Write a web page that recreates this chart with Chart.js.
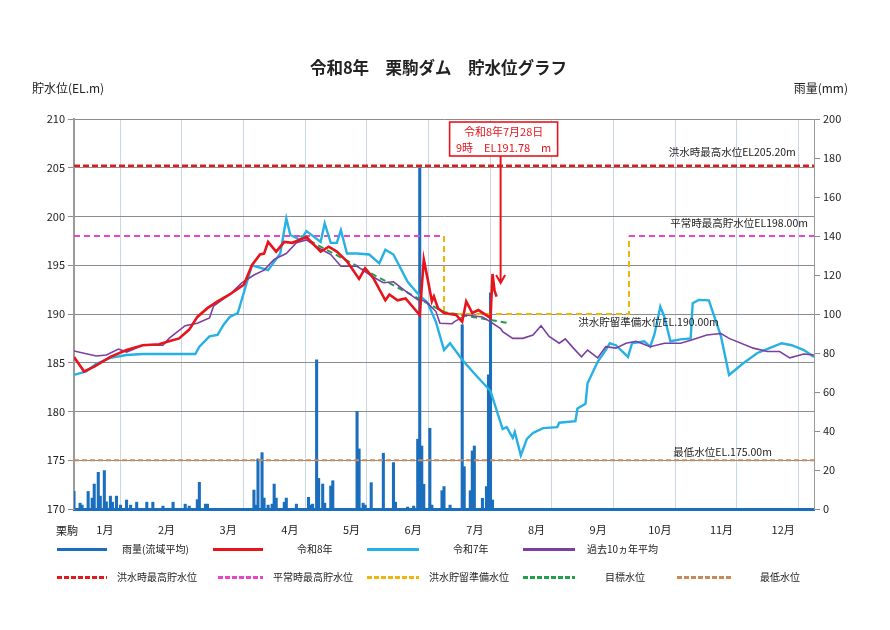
<!DOCTYPE html>
<html><head><meta charset="utf-8">
<script src="https://cdn.jsdelivr.net/npm/chart.js@4.4.1/dist/chart.umd.min.js"></script>
<style>
body{margin:0;background:#fff;font-family:"Noto Sans CJK JP","Noto Sans",sans-serif;}
#wrap{position:relative;width:890px;height:630px;overflow:hidden;background:#fff}
canvas{position:absolute;left:0;top:0}
.t{position:absolute;white-space:nowrap;color:#222;line-height:1}
.sw{position:absolute;height:3px}
</style></head><body>
<div id="wrap">
<canvas id="c" width="890" height="630"></canvas>
<div class="t" style="left:0;width:877px;text-align:center;top:59px;font-size:16.5px;font-weight:600;">令和8年　栗駒ダム　貯水位グラフ</div>
<div class="t" style="left:32px;top:82px;font-size:12px;">貯水位(EL.m)</div>
<div class="t" style="right:42px;top:82px;font-size:12px;">雨量(mm)</div>
<div class="t" style="left:56px;top:525px;font-size:11px;">栗駒</div>
<div id="legend"></div>
</div>
<script>
// ---- data ----
const monthLabels = ['1月','2月','3月','4月','5月','6月','7月','8月','9月','10月','11月','12月'];

const r8Days  = [0,5,10,18,26,34,42,47,52,57,61,66,71,77,84,88,92,94,96,100,104,108,115,122,126,130,135,141,144,148,154,156,160,164,171,173,175,177,178,180,183,189,192,194,197,200,206,207,208,209];
const r8Level = [185.6,184.1,184.6,185.6,186.3,186.8,186.9,187.2,187.5,188.4,189.7,190.6,191.3,192.0,193.0,195.0,196.1,196.2,197.4,196.4,197.4,197.3,197.9,196.4,196.9,196.4,195.4,193.6,194.7,193.7,191.4,192.0,191.4,191.6,189.9,195.6,193.5,191.3,191.8,190.6,190.1,189.9,189.2,191.3,190.1,190.4,189.6,194.1,192.4,191.78];

const r7Days  = [0,6,11,18,26,34,60,62,67,71,74,77,81,88,96,102,105,107,109,112,115,122,124,127,130,132,135,140,146,151,154,158,165,170,175,179,183,186,192,198,206,212,214,217,218,221,224,227,232,239,240,248,249,253,254,259,263,265,268,274,276,282,285,287,290,292,295,300,305,306,309,314,320,324,331,338,344,350,355,361,366];
const r7Level = [183.75,184.1,184.9,185.5,185.8,185.9,185.9,186.65,187.7,187.85,188.9,189.7,190.1,195.0,194.5,196.2,199.8,198.1,197.9,197.6,198.5,197.4,199.3,197.3,197.3,198.6,196.2,196.2,196.1,195.2,196.6,196.1,193.3,192.1,191.1,189.2,186.3,187.0,185.3,183.9,182.1,178.2,178.4,177.3,177.9,175.5,177.2,177.8,178.3,178.4,178.85,179.0,180.3,180.8,182.9,185.1,186.3,187.0,186.8,185.6,187.0,187.2,186.65,187.85,190.75,189.7,187.2,187.4,187.5,191.1,191.45,191.4,187.7,183.75,184.95,186.0,186.5,187.0,186.8,186.3,185.6];

const avgDays  = [0,11,16,22,26,34,44,47,55,61,67,69,77,83,89,94,99,105,110,115,120,127,132,140,148,153,158,163,170,174,179,181,187,188,194,202,206,211,212,217,222,227,231,235,240,243,247,251,254,259,263,268,273,278,285,292,300,305,313,320,324,336,343,349,354,361,366];
const avgLevel = [186.2,185.7,185.8,186.4,186.1,186.8,186.8,187.5,188.8,189.05,189.6,190.8,192.0,193.2,194.0,194.5,195.6,196.2,197.3,197.6,196.9,196.1,194.9,194.9,193.8,193.2,193.3,192.5,191.45,191.3,190.25,189.05,189.0,189.2,189.9,189.7,189.2,188.5,188.2,187.5,187.5,187.85,188.8,187.7,187.0,187.45,186.5,185.6,186.3,185.5,186.65,186.5,187.0,187.2,186.65,187.0,187.0,187.3,187.85,188.0,187.5,186.5,186.15,186.15,185.5,185.9,185.8];

const rainDays = [0,3,4,7,9,10,12,13,15,16,18,19,21,23,26,28,31,36,39,44,49,55,57,61,62,65,66,89,90,91,93,94,96,98,99,100,104,105,110,116,117,118,120,121,123,124,127,128,140,141,143,144,147,153,158,159,165,168,170,171,172,173,176,177,182,183,186,192,193,196,197,198,202,204,205,206,207];
const rainMm   = [9,3,2,9,5.6,12.8,18.8,6.6,19.7,3.7,6.6,3.5,6.6,2,4.6,2,3.5,3.5,3.5,1.5,3.5,2.5,1.5,4.8,13.7,2.5,2.5,9.7,2,25.7,28.9,5.6,2,2.5,12.8,5.6,3.5,5.6,2.5,6,2,2.5,76.5,15.7,12.8,3,11.8,14.5,50,30.8,3,2,13.5,28.6,23.8,3.5,1,1.5,35.8,175,32.3,12.7,41.4,2,9.4,11.5,2,94.5,21.7,9.4,29.8,32.3,5.5,11.5,68.8,110.8,4.6];

const floodMaxLevel = 205.2;
const minLevel = 175.0;
const normalDays  = [0,183,183,274.5,366];
const normalLevel = [198,198,null,198,198];
const prepDays  = [183,183,274.5,274.5];
const prepLevel = [198,190,190,198];
const targetDays  = [112,183,214];
const targetLevel = [198.0,190.2,189.1];

const levelLabels = ['洪水時最高水位EL205.20m','平常時最高貯水位EL198.00m','洪水貯留準備水位EL.190.00m','最低水位EL.175.00m'];
const noteLines = ['令和8年7月28日','9時　EL191.78　m'];

// ---- helpers ----
const FONT = '"Noto Sans CJK JP","Noto Sans",sans-serif';
const pts = (xs, ys) => xs.map((d,i)=>({x:d, y:ys[i]}));
const tickVals = [];
for (let i=0;i<=24;i++) tickVals.push(i*15.25);

const C = {
  rain:'#1a6ebd', r8:'#e8141c', r7:'#27b0e4', avg:'#7b3fa1',
  flood:'#e31a1c', normal:'#e645cc', prep:'#f0b50a', target:'#21a04c', min:'#c98a5a'
};

const annot = {
  id:'annot',
  afterDatasetsDraw(chart){
    const {ctx, scales:{x,y}, chartArea} = chart;
    ctx.save();
    ctx.fillStyle = '#222';
    ctx.font = '10.5px '+FONT;
    ctx.textBaseline = 'middle';
    ctx.textAlign = 'right';
    ctx.fillText(levelLabels[0], x.getPixelForValue(357), y.getPixelForValue(floodMaxLevel+1.45));
    ctx.fillText(levelLabels[1], x.getPixelForValue(363), y.getPixelForValue(198+1.32));
    ctx.textAlign = 'left';
    ctx.fillText(levelLabels[2], x.getPixelForValue(249.4), y.getPixelForValue(190-0.84));
    ctx.fillText(levelLabels[3], x.getPixelForValue(296.4), y.getPixelForValue(minLevel+0.81));

    // current value note
    const last = r8Days.length-1;
    const ax = x.getPixelForValue(r8Days[last]+2);
    const tipY = y.getPixelForValue(r8Level[last]+1.4);
    const bx = ax-51, by = chartArea.top+3, bw = 108, bh = 34;
    ctx.fillStyle = '#fff';
    ctx.fillRect(bx,by,bw,bh);
    ctx.strokeStyle = C.r8; ctx.lineWidth = 1.6;
    ctx.strokeRect(bx,by,bw,bh);
    ctx.fillStyle = C.r8;
    ctx.font = '11px '+FONT;
    ctx.textAlign = 'center';
    ctx.fillText(noteLines[0], bx+bw/2, by+9.5);
    ctx.fillText(noteLines[1], bx+bw/2, by+26);
    ctx.lineWidth = 2;
    ctx.beginPath();
    ctx.moveTo(ax, by+bh); ctx.lineTo(ax, tipY);
    ctx.moveTo(ax-4.5, tipY-8); ctx.lineTo(ax, tipY); ctx.lineTo(ax+4.5, tipY-8);
    ctx.stroke();
    ctx.restore();
  }
};

const dashed = (label, data, color, w, dash, order) => ({
  type:'line', label, data, borderColor:color, borderWidth:w, borderDash:dash,
  pointRadius:0, tension:0, spanGaps:false, yAxisID:'y', order
});

new Chart(document.getElementById('c'), {
  type:'line',
  data:{
    datasets:[
      {type:'line',label:'令和8年',data:pts(r8Days,r8Level),borderColor:C.r8,borderWidth:2.6,pointRadius:0,tension:0,yAxisID:'y',order:1},
      {type:'line',label:'令和7年',data:pts(r7Days,r7Level),borderColor:C.r7,borderWidth:2.4,pointRadius:0,tension:0,yAxisID:'y',order:3},
      {type:'line',label:'過去10ヵ年平均',data:pts(avgDays,avgLevel),borderColor:C.avg,borderWidth:1.6,pointRadius:0,tension:0,yAxisID:'y',order:2},
      dashed('洪水時最高貯水位',[{x:0,y:floodMaxLevel},{x:366,y:floodMaxLevel}],C.flood,2.6,[6,3],5),
      dashed('平常時最高貯水位',pts(normalDays,normalLevel),C.normal,2,[6,4],5),
      dashed('洪水貯留準備水位',pts(prepDays,prepLevel),C.prep,2,[6,4],5),
      dashed('目標水位',pts(targetDays,targetLevel),C.target,2,[6,4],4),
      dashed('最低水位',[{x:0,y:minLevel},{x:366,y:minLevel}],C.min,2,[5,3],5),
      {type:'bar',label:'雨量(流域平均)',data:pts(rainDays,rainMm),backgroundColor:C.rain,barThickness:2.4,yAxisID:'y1',order:8}
    ]
  },
  options:{
    responsive:false, animation:false, devicePixelRatio:1,
    layout:{padding:{top:119,bottom:86,left:0,right:0}},
    plugins:{legend:{display:false},tooltip:{enabled:false},title:{display:false}},
    scales:{
      x:{type:'linear',min:0,max:366,offset:false,
        afterBuildTicks(s){ s.ticks = tickVals.map(v=>({value:v})); },
        ticks:{autoSkip:false,maxRotation:0,minRotation:0,padding:14,color:'#222',font:{size:11,family:FONT},
          callback:(v,i)=> i%2===1 ? monthLabels[(i-1)/2] : ''},
        grid:{color:(c)=> c.index%2===0 ? '#ccd7e4' : 'rgba(0,0,0,0)', drawTicks:false, lineWidth:1},
        border:{color:C.rain,width:3},
        afterFit(s){ s.height = 35; }
      },
      y:{position:'left',min:170,max:210,
        ticks:{stepSize:5,padding:3,color:'#222',font:{size:11,family:FONT}},
        grid:{color:'#8c8c8c',lineWidth:1,tickLength:6,tickColor:'#8c8c8c'},
        border:{color:'#9a9a9a',width:2},
        afterFit(s){ s.width = 74; }
      },
      y1:{position:'right',min:0,max:200,
        ticks:{stepSize:20,padding:3,color:'#222',font:{size:11,family:FONT}},
        grid:{drawOnChartArea:false,tickLength:6,color:'#8c8c8c'},
        border:{color:'#9a9a9a',width:1},
        afterFit(s){ s.width = 76; }
      }
    }
  },
  plugins:[annot]
});

// ---- HTML legend ----
const legendItems = [
  {row:549, x1:57, x2:107, tx:122, color:C.rain, dash:false, text:'雨量(流域平均)'},
  {row:549, x1:213, x2:263, tx:297, color:C.r8, dash:false, text:'令和8年'},
  {row:549, x1:367, x2:419, tx:453, color:C.r7, dash:false, text:'令和7年'},
  {row:549, x1:523, x2:575, tx:587, color:C.avg, dash:false, text:'過去10ヵ年平均'},
  {row:577, x1:57, x2:107, tx:117, color:C.flood, dash:true, text:'洪水時最高貯水位'},
  {row:577, x1:218, x2:263, tx:273, color:C.normal, dash:true, text:'平常時最高貯水位'},
  {row:577, x1:367, x2:419, tx:429, color:C.prep, dash:true, text:'洪水貯留準備水位'},
  {row:577, x1:523, x2:575, tx:605, color:C.target, dash:true, text:'目標水位'},
  {row:577, x1:677, x2:731, tx:760, color:C.min, dash:true, text:'最低水位'}
];
const lg = document.getElementById('legend');
legendItems.forEach(it=>{
  const s = document.createElement('div');
  s.className = 'sw';
  s.style.left = it.x1+'px'; s.style.width = (it.x2-it.x1)+'px'; s.style.top = (it.row-1.5)+'px';
  s.style.background = it.dash
    ? `repeating-linear-gradient(90deg, ${it.color} 0 5px, transparent 5px 7px)`
    : it.color;
  lg.appendChild(s);
  const t = document.createElement('div');
  t.className = 't';
  t.style.left = it.tx+'px'; t.style.top = (it.row-5.5)+'px'; t.style.fontSize = '10px';
  t.textContent = it.text;
  lg.appendChild(t);
});
</script>
</body></html>
